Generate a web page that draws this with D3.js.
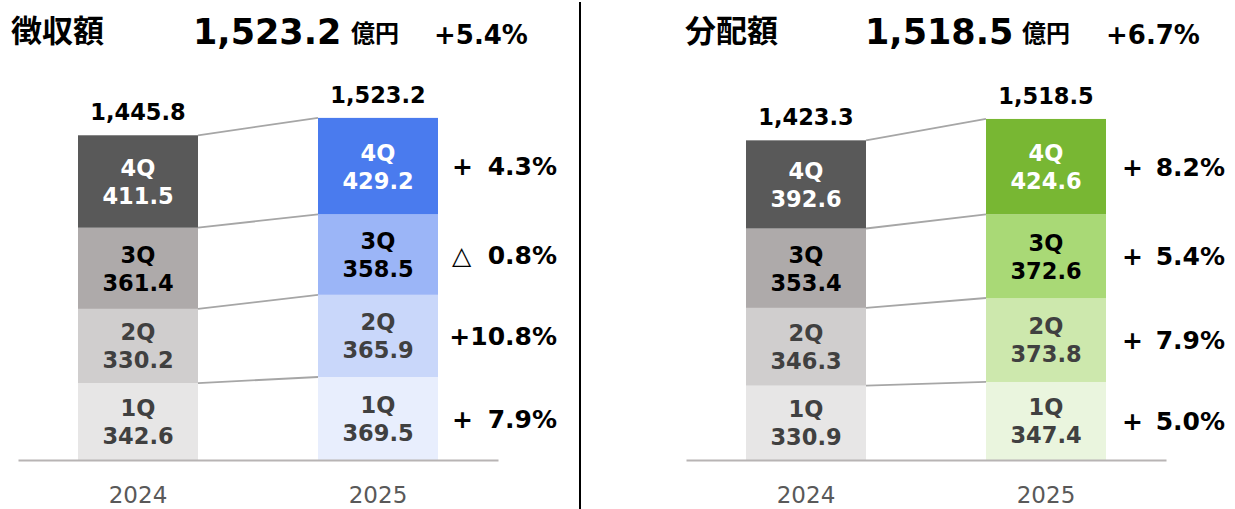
<!DOCTYPE html>
<html>
<head>
<meta charset="utf-8">
<script src="https://cdn.jsdelivr.net/npm/d3@7"></script>
<style>
  html, body { margin: 0; padding: 0; background: #fff; }
  svg { display: block; }
  text { font-family: "DejaVu Sans", "Noto Sans CJK JP", sans-serif; }
  .cjk { font-family: "Noto Sans CJK JP", sans-serif; }
</style>
</head>
<body>
<svg id="chart" width="1235" height="509"></svg>
<script>
// ---------- data ----------
const years = ["2024", "2025"];
const quarters = ["1Q", "2Q", "3Q", "4Q"];
const panelTitles = ["徴収額", "分配額"];
const unitLabel = "億円";

const collected2024 = [342.6, 330.2, 361.4, 411.5];
const collected2025 = [369.5, 365.9, 358.5, 429.2];
const collectedTotals = [1445.8, 1523.2];
const collectedChange = [7.9, 10.8, -0.8, 4.3];
const collectedTotalChange = 5.4;

const distributed2024 = [330.9, 346.3, 353.4, 392.6];
const distributed2025 = [347.4, 373.8, 372.6, 424.6];
const distributedTotals = [1423.3, 1518.5];
const distributedChange = [5.0, 7.9, 5.4, 8.2];
const distributedTotalChange = 6.7;

// ---------- styles ----------
const greyColors = ["#e7e6e6", "#d0cece", "#aeaaaa", "#595959"];
const blueColors = ["#e8eefd", "#c9d7fa", "#9bb5f7", "#4a7bee"];
const greenColors = ["#eaf5de", "#cde8ad", "#a9d976", "#78b733"];
const labelColors = ["#404040", "#404040", "#000000", "#ffffff"];

const panels = [
  { title: panelTitles[0], y2024: collected2024, y2025: collected2025, totals: collectedTotals,
    change: collectedChange, totalChange: collectedTotalChange, colors2025: blueColors,
    x0: 0, hx: { title: 11, num: 193, unit: 351, chg: 434 }, signX: 452, pctEnd: 557 },
  { title: panelTitles[1], y2024: distributed2024, y2025: distributed2025, totals: distributedTotals,
    change: distributedChange, totalChange: distributedTotalChange, colors2025: greenColors,
    x0: 668, hx: { title: 685, num: 865, unit: 1022, chg: 1106 }, signX: 1122, pctEnd: 1225 }
];

const svg = d3.select("#chart");
const baseY = 460;
const y = d3.scaleLinear().domain([0, 2048]).range([baseY, 0]);
const fmt = d3.format(",.1f");

// divider
svg.append("line").attr("x1", 580).attr("x2", 580).attr("y1", 2).attr("y2", 509)
  .attr("stroke", "#000").attr("stroke-width", 2);

panels.forEach(p => {
  const g = svg.append("g");
  const x = d3.scaleBand().domain(years).range([p.x0 + 18, p.x0 + 498])
    .paddingInner(0.5).paddingOuter(0.25);
  const bw = x.bandwidth();

  // header
  g.append("text").attr("class", "cjk").attr("x", p.hx.title).attr("y", 42)
    .attr("font-size", 31).attr("font-weight", 700).attr("fill", "#000").text(p.title);
  g.append("text").attr("x", p.hx.num).attr("y", 43.5)
    .attr("font-size", 35).attr("font-weight", 700).attr("fill", "#000").text(fmt(p.totals[1]));
  g.append("text").attr("class", "cjk").attr("x", p.hx.unit).attr("y", 42)
    .attr("font-size", 24).attr("font-weight", 700).attr("fill", "#000").text(unitLabel);
  g.append("text").attr("x", p.hx.chg).attr("y", 43.5)
    .attr("font-size", 26).attr("font-weight", 700).attr("fill", "#000")
    .text((p.totalChange >= 0 ? "+" : "△") + p.totalChange.toFixed(1) + "%");

  // stacked segments
  const stack = (vals) => {
    let acc = 0;
    return vals.map((v, i) => { const s = { q: quarters[i], v, y0: acc, y1: acc + v, i }; acc += v; return s; });
  };
  const s24 = stack(p.y2024), s25 = stack(p.y2025);

  // connector lines
  const links = [1, 2, 3].map(i => ({ a: s24[i].y0, b: s25[i].y0 }))
    .concat([{ a: s24[3].y1, b: s25[3].y1 }]);
  g.selectAll("line.link").data(links).join("line")
    .attr("x1", x("2024") + bw).attr("x2", x("2025"))
    .attr("y1", d => y(d.a)).attr("y2", d => y(d.b))
    .attr("stroke", "#a6a6a6").attr("stroke-width", 1.8);

  [[years[0], s24, greyColors], [years[1], s25, p.colors2025]].forEach(([yr, segs, cols]) => {
    const bg = g.append("g");
    bg.selectAll("rect").data(segs).join("rect")
      .attr("x", x(yr)).attr("width", bw)
      .attr("y", d => y(d.y1)).attr("height", d => y(d.y0) - y(d.y1))
      .attr("fill", d => cols[d.i]);
    const lab = bg.selectAll("g.lab").data(segs).join("g")
      .attr("transform", d => `translate(${x(yr) + bw / 2},${(y(d.y0) + y(d.y1)) / 2})`);
    lab.append("text").attr("y", -5.5).attr("text-anchor", "middle")
      .attr("font-size", 22.5).attr("font-weight", 700).attr("fill", d => labelColors[d.i]).text(d => d.q);
    lab.append("text").attr("y", 22.5).attr("text-anchor", "middle")
      .attr("font-size", 22.5).attr("font-weight", 700).attr("fill", d => labelColors[d.i]).text(d => d.v.toFixed(1));
    // total label
    const ti = years.indexOf(yr);
    g.append("text").attr("x", x(yr) + bw / 2).attr("y", y(p.totals[ti]) - 15)
      .attr("text-anchor", "middle").attr("font-size", 22.5).attr("font-weight", 700)
      .attr("fill", "#000").text(fmt(p.totals[ti]));
  });

  // change labels: sign at fixed x, number right-aligned; merged when they would touch
  s25.forEach(d => {
    const v = p.change[d.i];
    const sign = v < 0 ? "△" : "+";
    const num = Math.abs(v).toFixed(1) + "%";
    const cy = (y(d.y0) + y(d.y1)) / 2 + 9;
    const numText = g.append("text").attr("x", p.pctEnd).attr("y", cy).attr("text-anchor", "end")
      .attr("font-size", 25).attr("font-weight", 700).attr("fill", "#000").text(num);
    const numStart = p.pctEnd - numText.node().getComputedTextLength();
    if (numStart - p.signX < 28) {
      numText.text(sign + num);
    } else {
      g.append("text").attr("x", p.signX).attr("y", cy)
        .attr("font-size", 25).attr("font-weight", 700).attr("fill", "#000").text(sign);
    }
  });

  // axis
  const axis = g.append("g").attr("transform", `translate(0,${baseY})`)
    .call(d3.axisBottom(x).tickSize(0).tickPadding(27));
  axis.select(".domain").attr("stroke", "#b8b4b4").attr("stroke-width", 2);
  axis.selectAll(".tick text").attr("font-size", 23).attr("fill", "#595959")
    .attr("font-family", "'DejaVu Sans', sans-serif");
});
</script>
</body>
</html>
